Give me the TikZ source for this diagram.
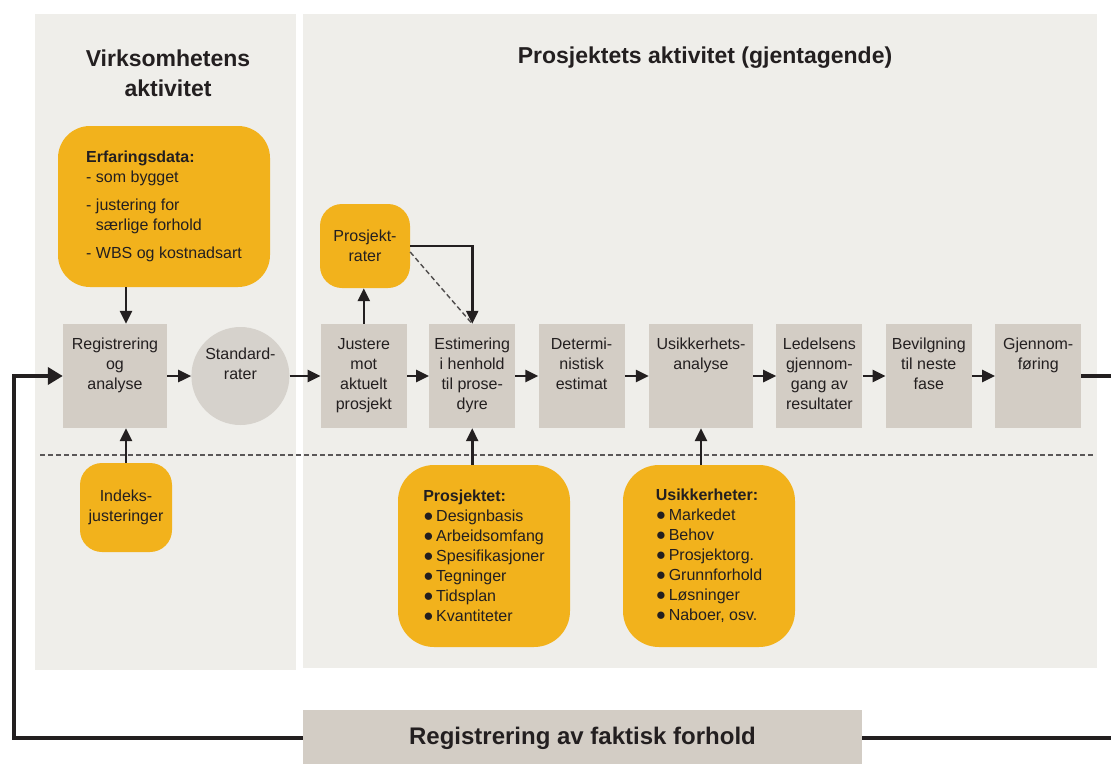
\documentclass[tikz,border=0pt]{standalone}
\usepackage{fontspec}
\setmainfont{Liberation Sans}
\usetikzlibrary{positioning, arrows.meta, calc}
\definecolor{panelgrey}{HTML}{EFEEEA}
\definecolor{boxgrey}{HTML}{D3CDC5}
\definecolor{ratesgrey}{HTML}{D6D2CC}
\definecolor{amber}{HTML}{F2B21C}
\definecolor{inkdark}{HTML}{231F20}
\newcommand{\toptext}[2][86pt]{\parbox[c][76pt][t]{#1}{\centering #2}}
\newcommand{\blt}{{\fontsize{17}{17}\selectfont\raisebox{0.5pt}{●}}\,}

\begin{document}
\begin{tikzpicture}[x=1pt, y=-1pt,
    stepbox/.style={fill=boxgrey, inner xsep=0pt, inner ysep=14pt, minimum width=86pt, minimum height=104pt,
                    text=inkdark, font=\fontsize{16}{20}\selectfont},
    ratebox/.style={circle, fill=ratesgrey, minimum size=98pt, inner sep=0pt, text=inkdark, font=\fontsize{16}{20}\selectfont},
    softbox/.style={fill=amber, rounded corners=26pt, inner sep=0pt, text=inkdark, font=\fontsize{16}{20}\selectfont},
    ttl/.style={font=\bfseries\fontsize{23}{30}\selectfont, text=inkdark, align=center},
    arr/.style={-{Triangle[length=13pt,width=12pt]}, line width=2.6pt, inkdark},
    returnline/.style={line width=4pt, inkdark}]
    \useasboundingbox (0,0) rectangle (1111,763);
    \fill[panelgrey] (35,14) rectangle (296,670);
    \fill[panelgrey] (303,14) rectangle (1097,668);
    \draw[inkdark!75, line width=1.2pt, dash pattern=on 5pt off 3pt] (40,455) -- (1095,455);
    \node[ttl] (lefttitle) at (168,73) {Virksomhetens\\aktivitet};
    \node[ttl] (righttitle) at (705,58) {Prosjektets aktivitet (gjentagende)};
    \node[stepbox, minimum width=104pt] (reg) at (115,376) {\toptext[104pt]{Registrering\\og\\analyse}};
    \node[ratebox, right=24pt of reg] (rates) {\parbox[c][56pt][t]{72pt}{\centering Standard-\\rater}};
    \node[stepbox, right=31pt of rates] (just) {\toptext{Justere\\mot\\aktuelt\\prosjekt}};
    \node[stepbox, right=22pt of just] (est) {\toptext{Estimering\\i henhold\\til prose-\\dyre}};
    \node[stepbox, right=23pt of est] (det) {\toptext{Determi-\\nistisk\\estimat}};
    \node[stepbox, minimum width=104pt, right=24pt of det] (usik) {\toptext[104pt]{Usikkerhets-\\analyse}};
    \node[stepbox, right=23pt of usik] (led) {\toptext{Ledelsens\\gjennom-\\gang av\\resultater}};
    \node[stepbox, right=23pt of led] (bev) {\toptext{Bevilgning\\til neste\\fase}};
    \node[stepbox, right=23pt of bev] (gjen) {\toptext{Gjennom-\\føring}};
    \node[softbox, rounded corners=32pt, minimum width=212pt, minimum height=161pt, align=left] (erf) at (164,206.5)
        {\textbf{Erfaringsdata:}\\- som bygget\\[8pt]- justering for\\\phantom{- }særlige forhold\\[8pt]- WBS og kostnadsart};
    \node[softbox, rounded corners=22pt, minimum width=90pt, minimum height=84pt, align=center] (prate) at (365,246)
        {Prosjekt-\\rater};
    \node[softbox, rounded corners=22pt, minimum width=92pt, minimum height=89pt, align=center] (indeks) at (126,507.5)
        {Indeks-\\justeringer};
    \node[softbox, rounded corners=36pt, minimum width=172pt, minimum height=182pt, align=left] (prosj) at (484,556)
        {\textbf{Prosjektet:}\\\blt Designbasis\\\blt Arbeidsomfang\\\blt Spesifikasjoner\\\blt Tegninger\\\blt Tidsplan\\\blt Kvantiteter};
    \node[softbox, rounded corners=36pt, minimum width=172pt, minimum height=182pt, align=left] (usk) at (709,556)
        {\textbf{Usikkerheter:}\\\blt Markedet\\\blt Behov\\\blt Prosjektorg.\\\blt Grunnforhold\\\blt Løsninger\\\blt Naboer, osv.};
    \node[fill=boxgrey, minimum width=559pt, minimum height=56pt, text=inkdark, font=\bfseries\fontsize{24}{28}\selectfont] (faktisk) at (582.5,738)
        {Registrering av faktisk forhold};
    \draw[arr] (erf.south -| indeks) -- (reg.north -| indeks);
    \draw[arr] (indeks.north) -- (reg.south -| indeks);
    \draw[arr] (reg) -- (rates);
    \draw[arr] (rates) -- (just);
    \draw[arr] (just.north) -- (just.north |- prate.south);
    \draw[arr] (prate.east) -| (est.north);
    \draw[inkdark!80, line width=1.4pt, dash pattern=on 5pt off 3pt] ([yshift=-6pt]prate.east) -- (est.north);
    \draw[arr] (just) -- (est);
    \draw[arr] (est) -- (det);
    \draw[arr] (det) -- (usik);
    \draw[arr] (usik) -- (led);
    \draw[arr] (led) -- (bev);
    \draw[arr] (bev) -- (gjen);
    \draw[arr] (prosj.north -| est) -- (est.south);
    \draw[arr] (usk.north -| usik) -- (usik.south);
    \draw[returnline] (gjen.east) -- ++(40,0) |- (faktisk.east);
    \draw[returnline, -{Triangle[length=15pt,width=17pt]}] (faktisk.west) -- ++(-289,0) |- (reg.west);
\end{tikzpicture}
\end{document}
